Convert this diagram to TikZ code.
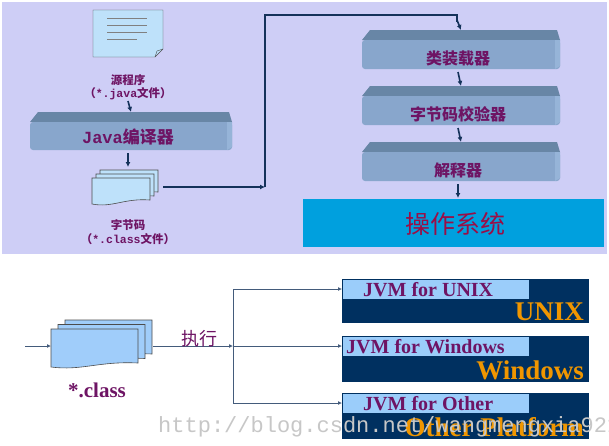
\documentclass[tikz,border=0pt]{standalone}
\usepackage{fontspec}
\setmainfont{Liberation Serif}
\newfontfamily\cjk{Noto Sans CJK SC}
\newfontfamily\mono{Liberation Mono}
\usetikzlibrary{arrows.meta}
\definecolor{bgl}{RGB}{206,206,246}
\definecolor{barf}{RGB}{136,166,204}
\definecolor{bart}{RGB}{104,134,166}
\definecolor{bars}{RGB}{150,180,216}
\definecolor{purp}{RGB}{110,20,100}
\definecolor{navy}{RGB}{0,48,96}
\definecolor{lblue}{RGB}{155,205,250}
\definecolor{orng}{RGB}{240,150,0}
\definecolor{cyanos}{RGB}{0,160,222}
\definecolor{arr}{RGB}{20,50,90}
\definecolor{doc}{RGB}{190,225,250}
\definecolor{doc2}{RGB}{160,205,250}
\tikzset{
 flow/.style={draw=arr,line width=1.6pt,-{Latex[length=5pt,width=5pt]}},
 flowb/.style={draw=arr!80,line width=0.9pt,-{Latex[length=4pt,width=4pt]}},
 lbl/.style={font=\cjk\bfseries\fontsize{11.5}{13}\selectfont,text=purp,inner sep=0pt},
 barlbl/.style={font=\cjk\bfseries\fontsize{16}{18}\selectfont,text=purp,inner sep=0pt},
 jvm/.style={font=\bfseries\fontsize{20}{22}\selectfont,text=purp,inner sep=0pt,anchor=west},
 os/.style={font=\bfseries\fontsize{27}{29}\selectfont,text=orng,inner sep=0pt,anchor=base east},
}
\newcommand{\mybar}[5]{% x0 y0 x1 y1 name
 \fill[bart] (#1+8,#2) -- (#3-3,#2) -- (#3,#2+10) -- (#1,#2+10) -- cycle;
 \fill[barf,rounded corners=3pt] (#1,#2+10) rectangle (#3,#4);
 \fill[bars] (#3-5,#2+10) -- (#3,#2+10) -- (#3,#4-3) -- (#3-5,#4) -- cycle;
 \coordinate (#5-t) at ({(#1+#3)/2},#2);
 \coordinate (#5-b) at ({(#1+#3)/2},#4);
}
\newcommand{\stack}[7]{% x0 y0 w h dx dy fill
 \foreach \k in {2,1,0}{
 \draw[fill=#7,draw=black!70,line width=0.6pt] (#1+\k*#5,#2-\k*#6) -- (#1+\k*#5+#3,#2-\k*#6) -- (#1+\k*#5+#3,#2-\k*#6+#4-4) .. controls (#1+\k*#5+#3*0.55,#2-\k*#6+#4-6) and (#1+\k*#5+#3*0.35,#2-\k*#6+#4+4) .. (#1+\k*#5,#2-\k*#6+#4) -- cycle;}
}
\begin{document}
\begin{tikzpicture}[x=1pt,y=-1pt]
\useasboundingbox (0,0) rectangle (609,445);
\fill[white] (0,0) rectangle (609,445);
\fill[bgl] (2,2) rectangle (607,254);
% document icon
\draw[fill=doc,draw=black!70] (93,10) -- (163,10) -- (163,49) -- (155,57) -- (93,57) -- cycle;
\draw[black!70] (155,57) -- (157,51) -- (163,49);
\foreach \y/\l in {18/40,25/40,32/40,39/30}{\draw[black!50] (107,\y) -- ++(\l,0);}
\node[lbl] (src1) at (128,80) {源程序};
\node[lbl] (src2) at (128,94) {（{\mono *.java}文件）};
\mybar{30}{112}{232}{150}{jc}
\node[font=\bfseries\fontsize{17}{19}\selectfont,text=purp,inner sep=0pt] (jct) at (128,137) {{\mono Java}{\cjk 编译器}};
\draw[flow] (128,101) -- (jc-t);
\stack{92}{178}{58}{26}{4}{4}{doc}
\coordinate (clsr) at (163,187);
\draw[flow] (128,153) -- (128,167);
\node[lbl] (bc1) at (128,225) {字节码};
\node[lbl] (bc2) at (128,239) {（{\mono *.class}文件）};
% right stack
\mybar{362}{30}{560}{69}{b1}
\mybar{362}{86}{560}{125}{b2}
\mybar{362}{142}{560}{181}{b3}
\node[barlbl] (t1) at (458,58) {类装载器};
\node[barlbl] (t2) at (458,114) {字节码校验器};
\node[barlbl] (t3) at (458,170) {解释器};
\fill[cyanos] (303,199) rectangle (604,247);
\node[font=\cjk\fontsize{25}{28}\selectfont,text=purp!70!red,inner sep=0pt] (osn) at (455,224) {操作系统};
\coordinate (osT) at (458,198);
\draw[flow] (clsr) -- (265,187) ;
\draw[draw=arr,line width=1.6pt] (265,187) -- (265,15) -- (457,15) -- (457,22);
\draw[flow] (457,20) -- (b1-t);
\draw[flow] (458,72) -- (b2-t);
\draw[flow] (458,128) -- (b3-t);
\draw[flow] (458,184) -- (osT);
% bottom
\stack{51}{329}{87}{38}{7}{4.5}{doc2}
\draw[flowb] (25,346) -- (51,346);
\node[font=\bfseries\fontsize{21}{23}\selectfont,text=purp] (cl) at (97,390) {*.class};
\coordinate (br) at (233,346);
\draw[flowb] (153,346) -- (br);
\node[font=\cjk\fontsize{18}{20}\selectfont,text=purp] (ex) at (199,339) {执行};
\draw[arr!80,line width=0.9pt] (233,289) -- (233,403);
\foreach \y/\h/\j/\o [count=\i] in {279/44/JVM for UNIX/UNIX,336/46/JVM for Windows/Windows,393/46/JVM for Other/Other Platform}{
 \fill[navy] (342,\y) rectangle (589,\y+\h);
 \fill[lblue] (343,\y+1) rectangle (529,\y+20);
 \node[jvm] (j\i) at ({\i==2 ? 346 : 363},\y+11) {\j};
 \node[os] (o\i) at (584,\y+\h-3) {\o};
 \draw[flowb] (233,\y+10) -- (342,\y+10);
}
\node[font=\mono\fontsize{22}{24}\selectfont,text=black!22,anchor=base west,inner sep=0pt] (wm) at (158,432) {http://blog.csdn.net/wangmengxia921};
\end{tikzpicture}
\end{document}
